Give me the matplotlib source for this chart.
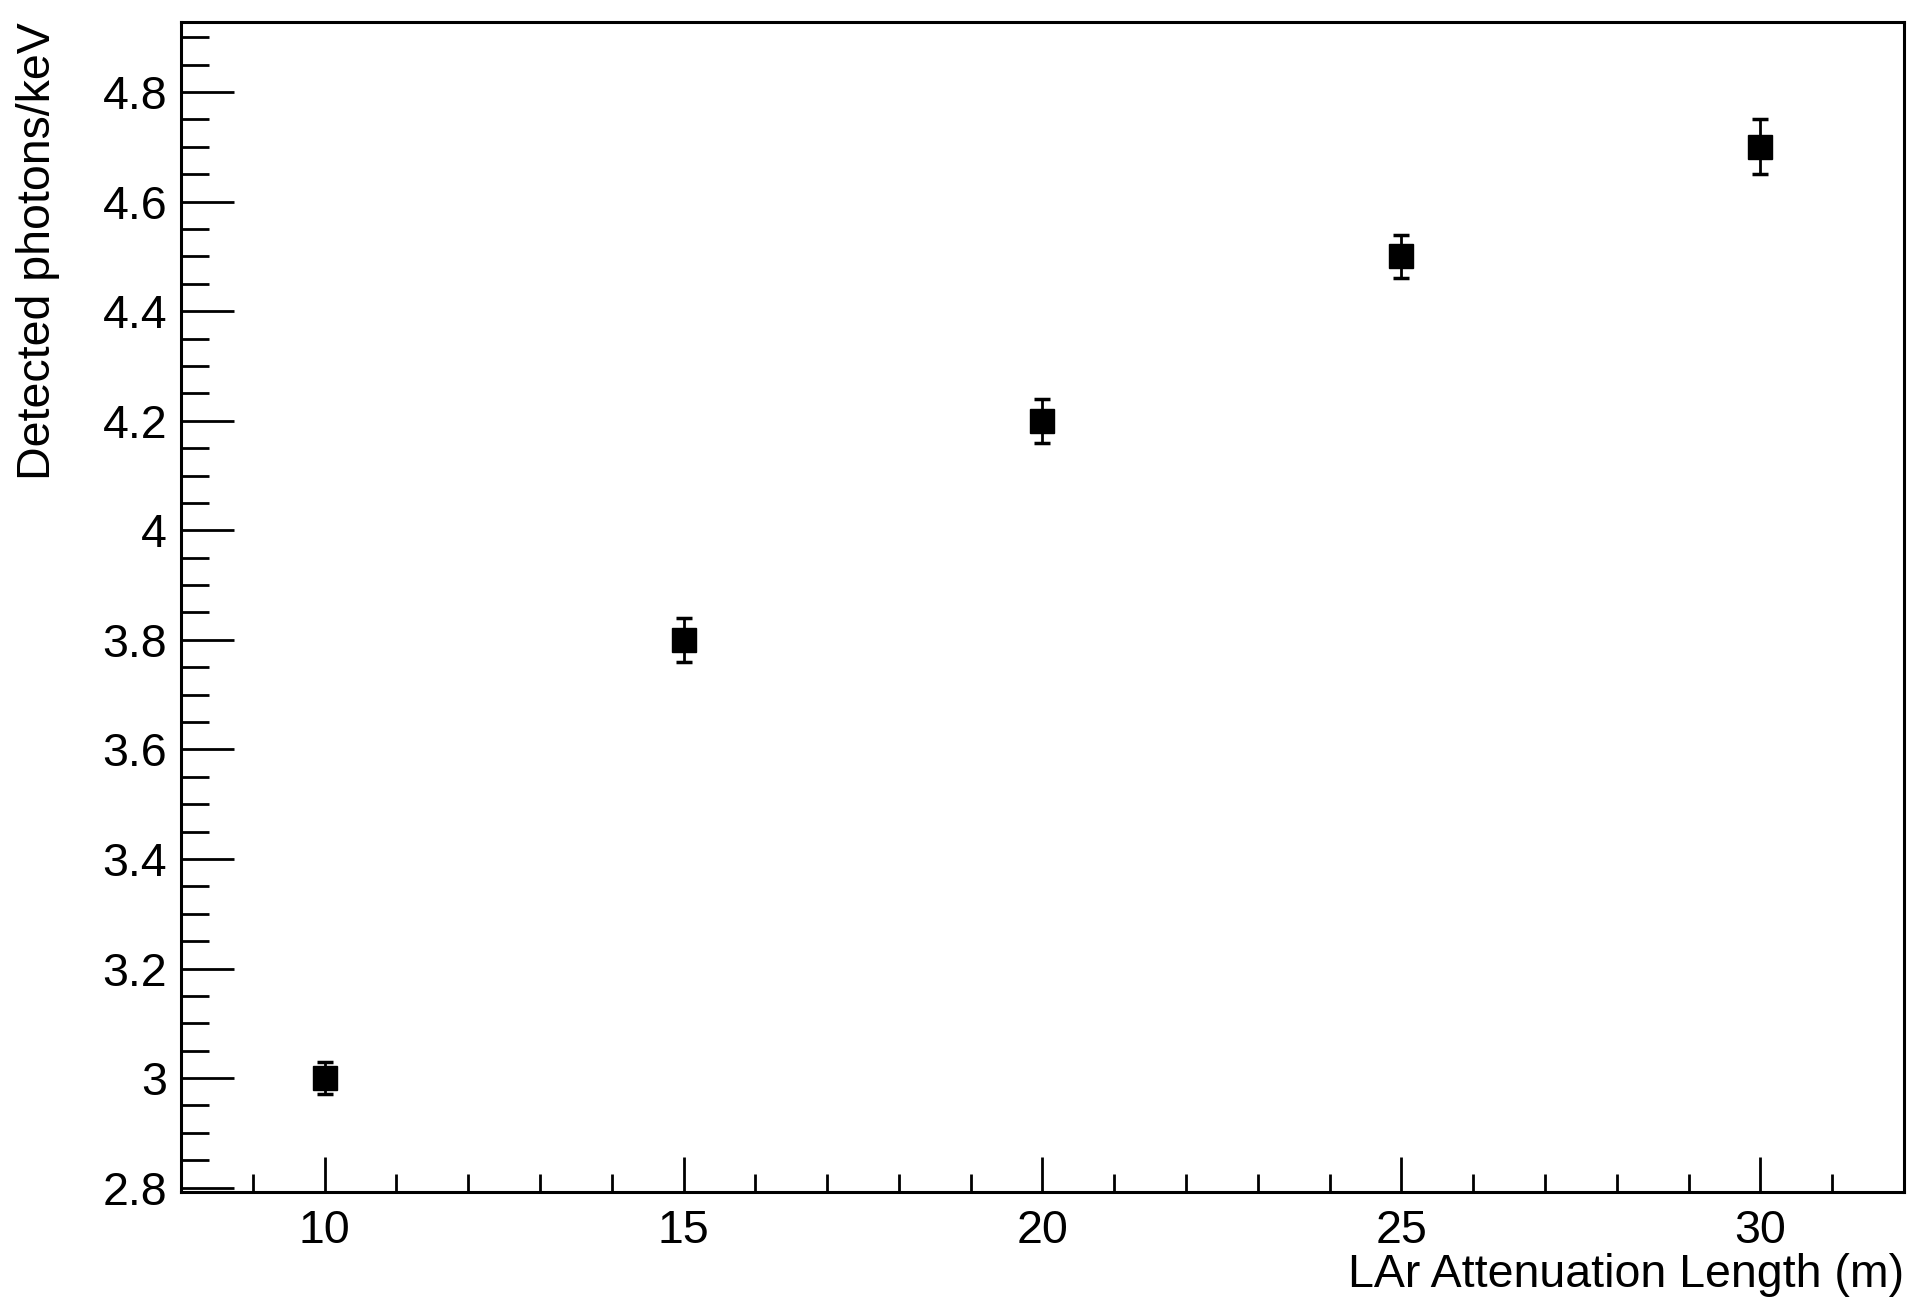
import matplotlib
matplotlib.use("Agg")
import matplotlib.pyplot as plt
from matplotlib.ticker import MultipleLocator

# data
att_length = [10, 15, 20, 25, 30]
photons = [3.0, 3.8, 4.2, 4.5, 4.7]
photons_err = [0.03, 0.04, 0.04, 0.04, 0.05]

x_title = "LAr Attenuation Length (m)"
y_title = "Detected photons/keV"

plt.rcParams['font.family'] = ['Liberation Sans', 'DejaVu Sans']

fig = plt.figure(figsize=(19.18, 13.10), dpi=100)
ax = fig.add_axes([181 / 1918, 1 - 1192 / 1310, (1904 - 181) / 1918, (1192 - 22) / 1310])

ax.errorbar(att_length, photons, yerr=photons_err, fmt='s', color='black',
            markersize=17, elinewidth=2, capsize=6, capthick=2.5)

ax.set_xlim(8, 32)
ax.set_ylim(2.792, 4.928)

ax.xaxis.set_major_locator(MultipleLocator(5))
ax.xaxis.set_minor_locator(MultipleLocator(1))
ax.yaxis.set_major_locator(MultipleLocator(0.2))
ax.yaxis.set_minor_locator(MultipleLocator(0.05))
ax.yaxis.set_major_formatter(plt.FuncFormatter(lambda v, p: f"{v:.1f}".rstrip('0').rstrip('.')))

ax.tick_params(which='both', direction='in', top=False, right=False, labelsize=33.5)
ax.tick_params(axis='x', which='major', length=25, width=2, pad=12)
ax.tick_params(axis='x', which='minor', length=13, width=2)
ax.tick_params(axis='y', which='major', length=38, width=2, pad=10)
ax.tick_params(axis='y', which='minor', length=20, width=2)

for s in ax.spines.values():
    s.set_linewidth(2.2)

fig.text(1904 / 1918, 0.027, x_title, ha='right', va='center', fontsize=33.5)
fig.text(0.020, 0.983, y_title, ha='center', va='top', rotation=90, fontsize=33.5)

fig.savefig("out.png", dpi=100)
